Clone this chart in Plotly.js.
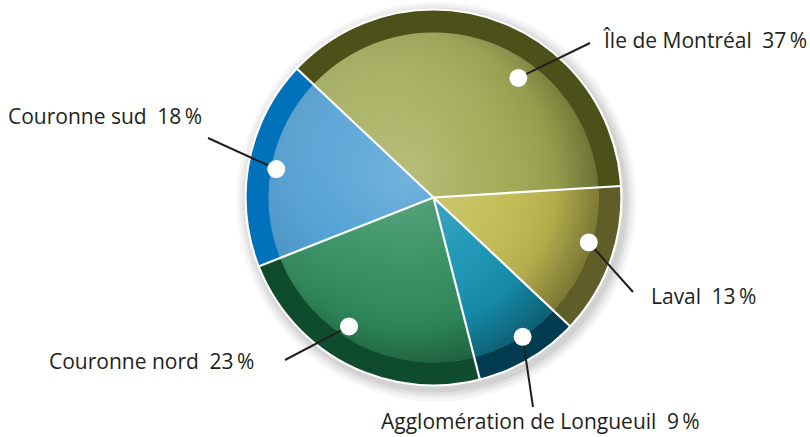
<!DOCTYPE html>
<html>
<head>
<meta charset="utf-8">
<script src="https://cdn.plot.ly/plotly-3.0.1.min.js"></script>
<style>html,body{margin:0;padding:0;background:#fff;}#chart{width:810px;height:437px;}</style>
</head>
<body>
<div id="chart"></div>
<script>
// ---- data ----
const categories = ["Île de Montréal", "Laval", "Agglomération de Longueuil", "Couronne nord", "Couronne sud"];
const values = [37, 13, 9, 23, 18];

// ---- styles ----
const rimColors = ["#4b5119", "#5f5e29", "#003b4f", "#0f4c2e", "#0072bc"];
const innerColors = ["#a0aa52", "#c2bc52", "#1694b4", "#2f8d5d", "#469bd2"];
const W = 810, H = 437;
const C = {x: 433.5, y: 197.5}, R = 188, Rin = 165;
const rotation = -46.7;
// dot placement inside slice: [fraction of slice angle, fraction of radius]
const dotPlace = [[0.616, 0.78], [0.42, 0.86], [0.435, 0.88], [0.574, 0.82], [0.49, 0.85]];
// leader end (px) and text anchor (px)
const leaderEnd = [[590, 43], [633, 292], [533, 407], [285, 360], [208, 138]];
const textPos = [[601, 40, "left"], [649, 296, "left"], [540, 421, "center"], [256, 361, "right"], [204, 116, "right"]];

const px = x => x / W, py = y => 1 - y / H;
const dom = r => ({x: [px(C.x - r), px(C.x + r)], y: [py(C.y + r), py(C.y - r)]});

const total = values.reduce((a, b) => a + b, 0);
const base = {type: "pie", values: values, labels: categories, sort: false, direction: "clockwise",
  rotation: rotation, textinfo: "none", hoverinfo: "skip", showlegend: false};

const traces = [
  Object.assign({}, base, {domain: dom(R), marker: {colors: rimColors, line: {color: "#fff", width: 0}}}),
  Object.assign({}, base, {domain: dom(Rin), marker: {colors: innerColors, line: {color: "#fff", width: 0}}})
];

// lighting overlay for the inner disc
const svg = `<svg xmlns="http://www.w3.org/2000/svg" width="330" height="330" viewBox="0 0 330 330">
<defs>
<radialGradient id="g" cx="0.42" cy="0.45" r="0.6">
<stop offset="0" stop-color="#fff" stop-opacity="0.22"/>
<stop offset="0.45" stop-color="#fff" stop-opacity="0.05"/>
<stop offset="0.75" stop-color="#000" stop-opacity="0.08"/>
<stop offset="1" stop-color="#000" stop-opacity="0.38"/>
</radialGradient>
<linearGradient id="h" x1="0" y1="0" x2="1" y2="1">
<stop offset="0" stop-color="#fff" stop-opacity="0.18"/>
<stop offset="0.5" stop-color="#fff" stop-opacity="0"/>
</linearGradient>
</defs>
<circle cx="165" cy="165" r="165" fill="url(#g)"/>
<circle cx="165" cy="165" r="165" fill="url(#h)"/>
</svg>`;
const images = [{source: "data:image/svg+xml;base64," + btoa(svg), xref: "paper", yref: "paper",
  x: px(C.x - Rin), y: py(C.y - Rin), sizex: 2 * Rin / W, sizey: 2 * Rin / H,
  xanchor: "left", yanchor: "top", sizing: "stretch", layer: "above"}];

const shapes = [];
// soft shadow
[[12, 0.03], [9, 0.04], [6, 0.05], [3, 0.06]].forEach(([d, o]) => {
  const cx = C.x + 3, cy = C.y + 4, r = R + d;
  shapes.push({type: "circle", xref: "paper", yref: "paper", layer: "below",
    x0: px(cx - r), x1: px(cx + r), y0: py(cy + r), y1: py(cy - r),
    fillcolor: `rgba(0,0,0,${o})`, line: {width: 0}});
});
// white outline and slice borders
shapes.push({type: "circle", xref: "paper", yref: "paper", x0: px(C.x - R), x1: px(C.x + R),
  y0: py(C.y + R), y1: py(C.y - R), line: {color: "#fff", width: 2.2}});
let acc = 0;
values.forEach(v => {
  const a = (rotation + acc / total * 360) * Math.PI / 180;
  acc += v;
  shapes.push({type: "line", xref: "paper", yref: "paper", x0: px(C.x), y0: py(C.y),
    x1: px(C.x + R * Math.sin(a)), y1: py(C.y - R * Math.cos(a)), line: {color: "#fff", width: 2.2}});
});

const annotations = [];
let cum = 0;
values.forEach((v, i) => {
  const ang = (rotation + (cum + dotPlace[i][0] * v) / total * 360) * Math.PI / 180;
  cum += v;
  const r = dotPlace[i][1] * R;
  const dx = C.x + r * Math.sin(ang), dy = C.y - r * Math.cos(ang);
  shapes.push({type: "line", xref: "paper", yref: "paper", x0: px(dx), y0: py(dy),
    x1: px(leaderEnd[i][0]), y1: py(leaderEnd[i][1]), line: {color: "#231f20", width: 2}});
  const dr = 9;
  shapes.push({type: "circle", xref: "paper", yref: "paper", x0: px(dx - dr), x1: px(dx + dr),
    y0: py(dy + dr), y1: py(dy - dr), fillcolor: "#ffffff", line: {width: 0}});
  annotations.push({xref: "paper", yref: "paper", x: px(textPos[i][0]), y: py(textPos[i][1]),
    xanchor: textPos[i][2], yanchor: "middle", showarrow: false,
    text: `${categories[i]}\u2002${v}\u2009%`,
    font: {family: "Open Sans, sans-serif", size: 21, color: "#231f20"}});
});

Plotly.newPlot("chart", traces, {
  width: W, height: H, margin: {l: 0, r: 0, t: 0, b: 0},
  paper_bgcolor: "#fff", plot_bgcolor: "#fff",
  shapes: shapes, annotations: annotations, images: images
}, {staticPlot: true});
</script>
</body>
</html>
